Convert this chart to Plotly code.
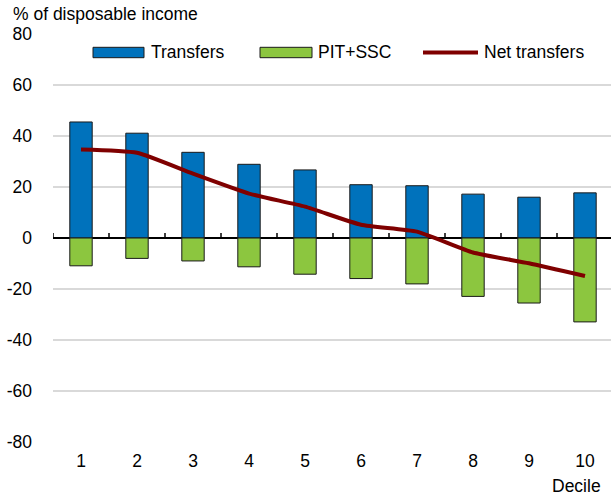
import plotly.graph_objects as go

# ---- data ----
deciles = [1, 2, 3, 4, 5, 6, 7, 8, 9, 10]
transfers = [45.5, 41.1, 33.6, 28.9, 26.7, 20.9, 20.5, 17.2, 16.0, 17.7]
pit_ssc = [-10.9, -8.0, -9.0, -11.3, -14.2, -15.9, -18.0, -22.9, -25.5, -32.9]
net_transfers = [34.7, 33.4, 25.2, 17.4, 12.3, 5.2, 2.5, -5.7, -9.9, -14.9]
y_ticks = [-80, -60, -40, -20, 0, 20, 40, 60, 80]
series_names = ["Transfers", "PIT+SSC", "Net transfers"]

# ---- styles ----
W, H = 611, 501
ML, MR, MT, MB = 53, 0, 34, 59
FONT = "Liberation Sans, Arial, sans-serif"
FS = 17.5
BLUE = "#0072BC"
GREEN = "#8CC63F"
RED = "#7F0000"
GRID = "#D9D9D9"

pw = W - ML - MR
ph = H - MT - MB


def px_x(x):
    return (x - ML) / pw


def px_y(y):
    return (H - MB - y) / ph


fig = go.Figure()
fig.add_trace(go.Bar(x=deciles, y=transfers, name=series_names[0], marker=dict(color=BLUE, line=dict(color="#1a1a1a", width=1)), width=0.4, showlegend=False))
fig.add_trace(go.Bar(x=deciles, y=pit_ssc, name=series_names[1], marker=dict(color=GREEN, line=dict(color="#1a1a1a", width=1)), width=0.4, showlegend=False))
fig.add_trace(go.Scatter(x=deciles, y=net_transfers, name=series_names[2], mode="lines", line=dict(color=RED, width=4, shape="spline", smoothing=0.5), showlegend=False))

shapes = []
# small tick marks on the zero line, between categories
for d in deciles:
    b = d - 0.5
    shapes.append(dict(type="line", xref="x", yref="y", x0=b, x1=b, y0=0, y1=2, line=dict(color="black", width=1.5)))

# custom legend
ly0, ly1 = px_y(57.7), px_y(47.3)
shapes.append(dict(type="rect", xref="paper", yref="paper", x0=px_x(93), x1=px_x(144), y0=ly0, y1=ly1, fillcolor=BLUE, line=dict(color="#1a1a1a", width=1)))
shapes.append(dict(type="rect", xref="paper", yref="paper", x0=px_x(260), x1=px_x(312), y0=ly0, y1=ly1, fillcolor=GREEN, line=dict(color="#1a1a1a", width=1)))
shapes.append(dict(type="line", xref="paper", yref="paper", x0=px_x(423), x1=px_x(478), y0=px_y(52.5), y1=px_y(52.5), line=dict(color=RED, width=4)))

annotations = []
for name, xs in zip(series_names, [149, 316, 482]):
    annotations.append(dict(text=name, xref="paper", yref="paper", x=px_x(xs), y=px_y(52.5), xanchor="left", yanchor="middle", showarrow=False, font=dict(size=FS, color="black", family=FONT)))
annotations.append(dict(text="% of disposable income", xref="paper", yref="paper", x=px_x(11), y=px_y(14.5), xanchor="left", yanchor="middle", showarrow=False, font=dict(size=FS, color="black", family=FONT)))
annotations.append(dict(text="Decile", xref="paper", yref="paper", x=px_x(603), y=px_y(486), xanchor="right", yanchor="middle", showarrow=False, font=dict(size=FS, color="black", family=FONT)))

fig.update_layout(
    width=W, height=H,
    margin=dict(l=ML, r=MR, t=MT, b=MB),
    paper_bgcolor="white", plot_bgcolor="white",
    barmode="relative",
    font=dict(family=FONT, size=FS, color="black"),
    shapes=shapes,
    annotations=annotations,
    xaxis=dict(range=[0.5, 0.5 + pw / 56.0], tickvals=deciles, ticktext=[str(d) for d in deciles], showgrid=False, zeroline=False, showline=False, ticks="", ticklabelstandoff=6),
    yaxis=dict(range=[-80, 80], tickvals=y_ticks, ticktext=[str(v) for v in y_ticks], showgrid=True, gridcolor=GRID, gridwidth=1.5, zeroline=True, zerolinecolor="black", zerolinewidth=1.5, showline=False, ticks="", ticklabelstandoff=20),
)

fig.write_html("out.html", config={"displayModeBar": False}, post_script="document.body.style.margin='0';")
